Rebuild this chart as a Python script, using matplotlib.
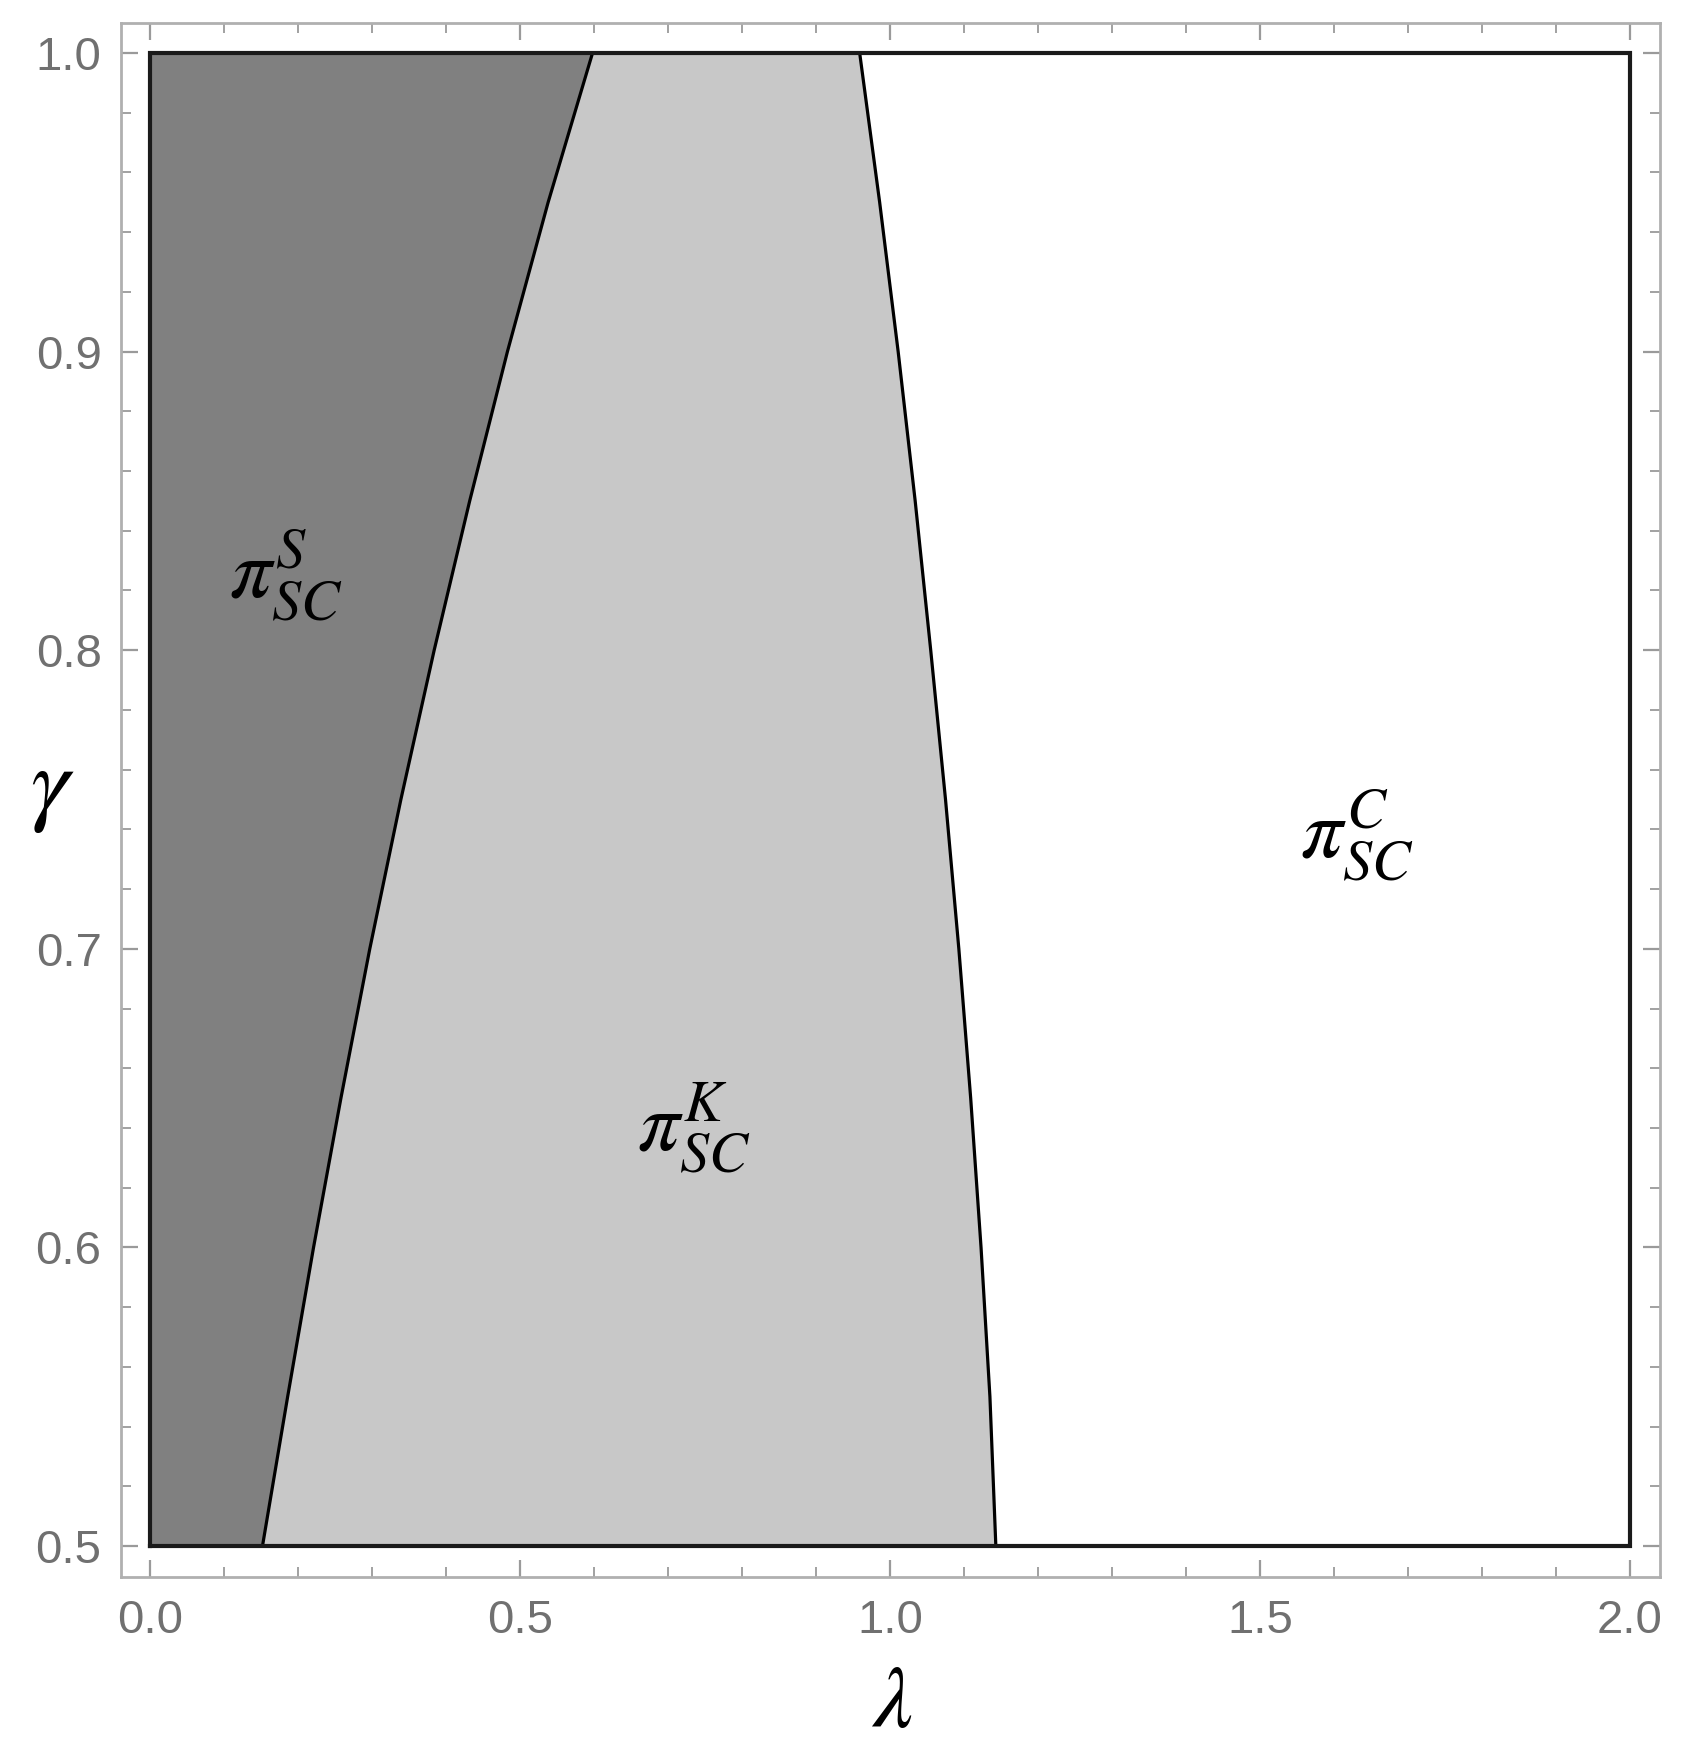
import matplotlib
matplotlib.use("Agg")
import matplotlib.pyplot as plt
import numpy as np

plt.rcParams['mathtext.fontset'] = 'stix'
plt.rcParams['font.family'] = ['Liberation Sans', 'DejaVu Sans']

# boundary curves (gamma -> lambda)
gamma = [0.50, 0.55, 0.60, 0.65, 0.70, 0.75, 0.80, 0.85, 0.90, 0.95, 1.00]
lam_S_K = [0.152, 0.186, 0.221, 0.258, 0.297, 0.339, 0.384, 0.432, 0.483, 0.538, 0.598]
lam_K_C = [1.143, 1.135, 1.123, 1.109, 1.093, 1.075, 1.055, 1.034, 1.011, 0.986, 0.959]

lam_min, lam_max = 0.0, 2.0
gam_min, gam_max = 0.5, 1.0

region_labels = [r'$\pi^{S}_{SC}$', r'$\pi^{K}_{SC}$', r'$\pi^{C}_{SC}$']
label_pos = [(0.183, 0.825), (0.735, 0.640), (1.630, 0.738)]

xticks = [0.0, 0.5, 1.0, 1.5, 2.0]
yticks = [0.5, 0.6, 0.7, 0.8, 0.9, 1.0]

fig = plt.figure(figsize=(16.82, 17.59), dpi=100)
ax = fig.add_axes([121/1682, 1 - 1577/1759, (1660-121)/1682, (1577-23)/1759])

g = np.array(gamma)
ax.fill_betweenx(g, lam_min, lam_S_K, color='#808080', lw=0)
ax.fill_betweenx(g, lam_S_K, lam_K_C, color='#c8c8c8', lw=0)
ax.fill_betweenx(g, lam_K_C, lam_max, color='white', lw=0)

ax.plot(lam_S_K, gamma, color='black', lw=2.3, solid_capstyle='butt')
ax.plot(lam_K_C, gamma, color='black', lw=2.3, solid_capstyle='butt')
ax.plot([lam_min, lam_max, lam_max, lam_min, lam_min],
        [gam_min, gam_min, gam_max, gam_max, gam_min],
        color='#1a1a1a', lw=3.0, solid_joinstyle='miter')

for txt, (x, y) in zip(region_labels, label_pos):
    ax.text(x, y, txt, fontsize=60, ha='center', va='center', color='black')

ax.set_xlim(-0.0392, 2.0405)
ax.set_ylim(0.48962, 1.01005)
ax.set_xticks(xticks)
ax.set_xticklabels([f'{v:.1f}' for v in xticks])
ax.set_yticks(yticks)
ax.set_yticklabels([f'{v:.1f}' for v in yticks])
ax.set_xticks(np.arange(0, 2.0001, 0.1), minor=True)
ax.set_yticks(np.arange(0.5, 1.0001, 0.02), minor=True)

ax.tick_params(which='both', direction='in', top=True, right=True,
               color='#9a9a9a', labelcolor='#707070', labelsize=34)
ax.tick_params(which='major', length=12, width=1.6)
ax.tick_params(which='minor', length=7.5, width=1.3)
ax.tick_params(axis='y', which='major', pad=14)
ax.tick_params(axis='x', which='major', pad=16)
for s in ax.spines.values():
    s.set_color('#b0b0b0')
    s.set_linewidth(2.0)

fig.text(892/1682, 1 - 1704/1759, r'$\lambda$', fontsize=64, ha='center', va='center')
fig.text(52/1682, 1 - 790/1759, r'$\gamma$', fontsize=70, ha='center', va='center')

fig.savefig('out.png', dpi=100, facecolor='white')
